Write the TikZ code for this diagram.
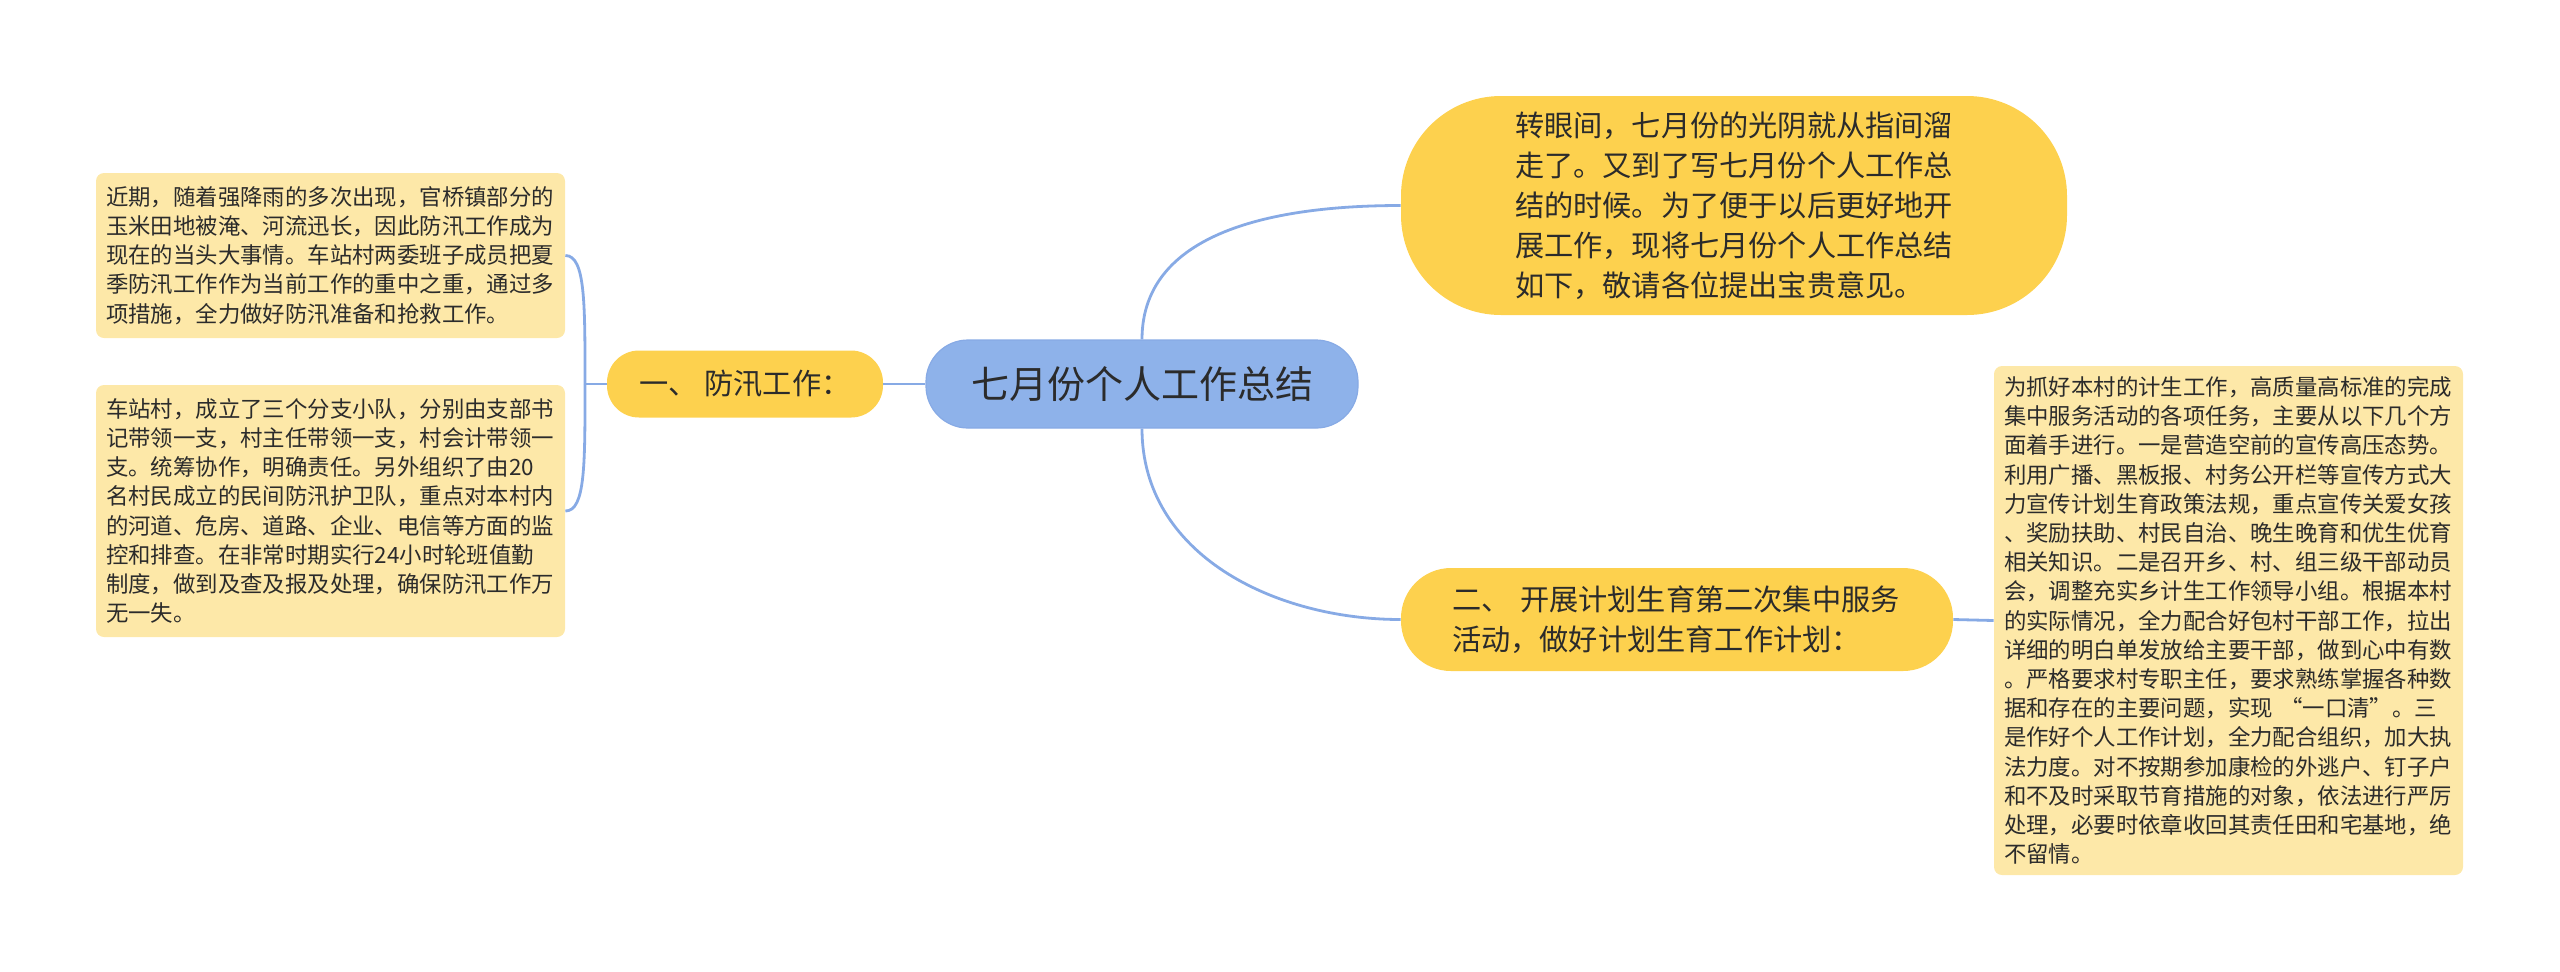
\documentclass[tikz,border=0pt]{standalone}
\usepackage{fontspec}
\setmainfont{Noto Sans CJK SC}
\definecolor{rootblue}{HTML}{8EB2EA}
\definecolor{branchyellow}{HTML}{FDD14E}
\definecolor{leafyellow}{HTML}{FDE8A8}
\definecolor{linkblue}{HTML}{87AAE5}
\definecolor{inkgray}{HTML}{2B2B2B}

\begin{document}
\begin{tikzpicture}[x=0.5pt,y=-0.5pt,
  root/.style={fill=rootblue,draw=linkblue,line width=0.6pt,rounded corners=21pt,
    minimum width=216pt,minimum height=44pt,inner sep=0pt,text=inkgray,
    font=\fontsize{19pt}{23pt}\selectfont},
  branch/.style={fill=branchyellow,inner sep=0pt,text=inkgray,align=left,
    font=\fontsize{14.6pt}{20pt}\selectfont},
  leaf/.style={fill=leafyellow,rounded corners=4pt,inner sep=0pt,text=inkgray,
    align=left,text width=224.5pt,minimum width=234.5pt,
    font=\fontsize{11.2pt}{14.6pt}\selectfont},
  link/.style={draw=linkblue,line width=1.4pt}]
  \useasboundingbox (0,0) rectangle (2560,971);

  \node[root] (root) at (1142,384) {七月份个人工作总结};

  % left side
  \node[branch,rounded corners=16pt,minimum width=138pt,minimum height=33.5pt]
    (flood) at (745,384) {一、 防汛工作：};
  \node[leaf,minimum height=82.5pt] (flood1) at (330.5,255.5)
    {近期，随着强降雨的多次出现，官桥镇部分的\\
     玉米田地被淹、河流迅长，因此防汛工作成为\\
     现在的当头大事情。车站村两委班子成员把夏\\
     季防汛工作作为当前工作的重中之重，通过多\\
     项措施，全力做好防汛准备和抢救工作。};
  \node[leaf,minimum height=126pt] (flood2) at (330.5,511)
    {车站村，成立了三个分支小队，分别由支部书\\
     记带领一支，村主任带领一支，村会计带领一\\
     支。统筹协作，明确责任。另外组织了由20\\
     名村民成立的民间防汛护卫队，重点对本村内\\
     的河道、危房、道路、企业、电信等方面的监\\
     控和排查。在非常时期实行24小时轮班值勤\\
     制度，做到及查及报及处理，确保防汛工作万\\
     无一失。};

  % right side
  \node[branch,rounded corners=50pt,text width=219pt,minimum width=333pt,
    minimum height=109.5pt] (intro) at (1734,205.5)
    {转眼间，七月份的光阴就从指间溜\\
     走了。又到了写七月份个人工作总\\
     结的时候。为了便于以后更好地开\\
     展工作，现将七月份个人工作总结\\
     如下，敬请各位提出宝贵意见。};
  \node[branch,rounded corners=25pt,text width=225pt,minimum width=276pt,
    minimum height=51.5pt] (plan) at (1677,619.5)
    {二、 开展计划生育第二次集中服务\\
     活动，做好计划生育工作计划：};
  \node[leaf,minimum height=254.5pt] (plan1) at (2228.5,620.5)
    {为抓好本村的计生工作，高质量高标准的完成\\
     集中服务活动的各项任务，主要从以下几个方\\
     面着手进行。一是营造空前的宣传高压态势。\\
     利用广播、黑板报、村务公开栏等宣传方式大\\
     力宣传计划生育政策法规，重点宣传关爱女孩\\
     、奖励扶助、村民自治、晚生晚育和优生优育\\
     相关知识。二是召开乡、村、组三级干部动员\\
     会，调整充实乡计生工作领导小组。根据本村\\
     的实际情况，全力配合好包村干部工作，拉出\\
     详细的明白单发放给主要干部，做到心中有数\\
     。严格要求村专职主任，要求熟练掌握各种数\\
     据和存在的主要问题，实现 “一口清”。三\\
     是作好个人工作计划，全力配合组织，加大执\\
     法力度。对不按期参加康检的外逃户、钉子户\\
     和不及时采取节育措施的对象，依法进行严厉\\
     处理，必要时依章收回其责任田和宅基地，绝\\
     不留情。};

  % connectors
  \draw[link] (root.west) -- (flood.east);
  \coordinate (fork) at (585,384);
  \draw[link] (flood.west) -- (fork);
  \draw[link] (fork) .. controls +(0,-80) and +(20,0) .. (flood1.east);
  \draw[link] (fork) .. controls +(0,80) and +(20,0) .. (flood2.east);
  \draw[link] (root.north) .. controls +(0,-113) and +(-113,0) .. (intro.west);
  \draw[link] (root.south) .. controls +(0,126) and +(-126,0) .. (plan.west);
  \draw[link] (plan.east) -- (plan1.west);
\end{tikzpicture}
\end{document}
